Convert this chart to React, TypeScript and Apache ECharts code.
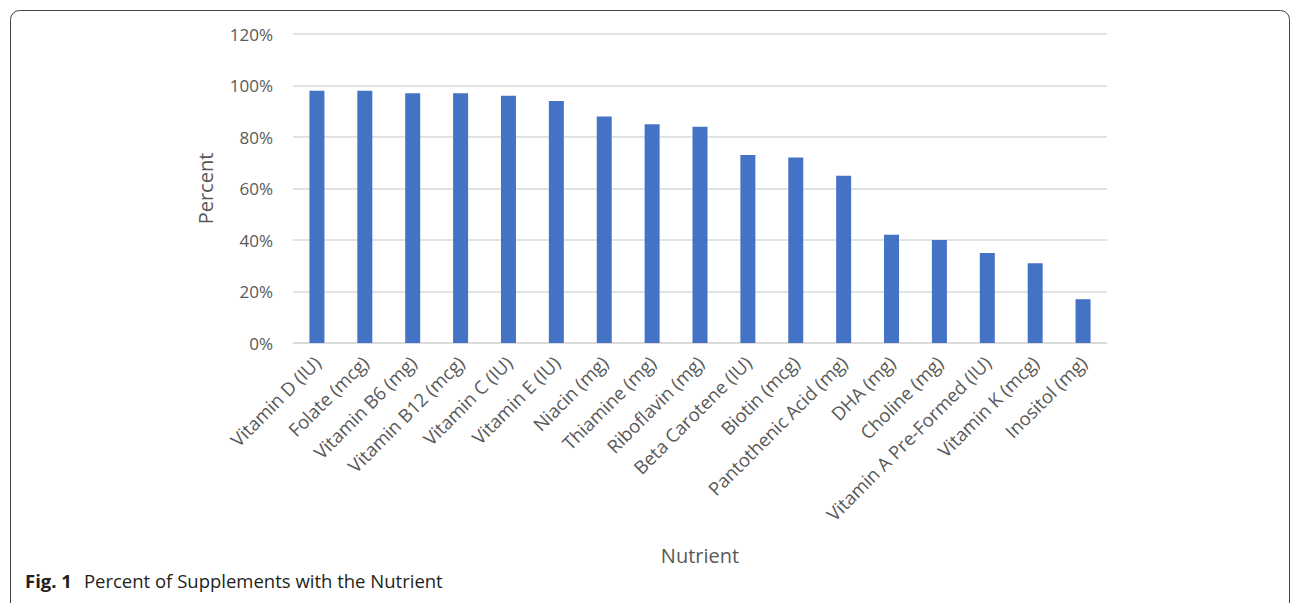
import React, { useEffect, useRef } from "react";
import * as echarts from "echarts";

const categories = [
  "Vitamin D (IU)",
  "Folate (mcg)",
  "Vitamin B6 (mg)",
  "Vitamin B12 (mcg)",
  "Vitamin C (IU)",
  "Vitamin E (IU)",
  "Niacin (mg)",
  "Thiamine (mg)",
  "Riboflavin (mg)",
  "Beta Carotene (IU)",
  "Biotin (mcg)",
  "Pantothenic Acid (mg)",
  "DHA (mg)",
  "Choline (mg)",
  "Vitamin A Pre-Formed (IU)",
  "Vitamin K (mcg)",
  "Inositol (mg)",
];

const percentValues = [98, 98, 97, 97, 96, 94, 88, 85, 84, 73, 72, 65, 42, 40, 35, 31, 17];

const yTicks = { min: 0, max: 120, interval: 20 };

const FONT = "'Open Sans', 'Noto Sans', sans-serif";

export default function App() {
  const ref = useRef<HTMLDivElement>(null);
  useEffect(() => {
    if (!ref.current) return;
    const chart = echarts.init(ref.current, null, { renderer: "svg" });
    chart.setOption({
      animation: false,
      backgroundColor: "#ffffff",
      grid: { left: 293, right: 188, top: 34, bottom: 260, containLabel: false },
      xAxis: {
        type: "category",
        data: categories,
        name: "Nutrient",
        nameLocation: "middle",
        nameGap: 202,
        nameTextStyle: { fontFamily: FONT, fontSize: 20, color: "#595959" },
        axisLine: { show: true, lineStyle: { color: "#d9d9d9", width: 1.5 } },
        axisTick: { show: false },
        axisLabel: {
          rotate: 45,
          interval: 0,
          margin: 16,
          fontFamily: FONT,
          fontSize: 18.5,
          color: "#595959",
        },
      },
      yAxis: {
        type: "value",
        min: yTicks.min,
        max: yTicks.max,
        interval: yTicks.interval,
        name: "Percent",
        nameLocation: "middle",
        nameGap: 78,
        nameTextStyle: { fontFamily: FONT, fontSize: 20, color: "#595959" },
        axisLine: { show: false },
        axisTick: { show: false },
        axisLabel: {
          formatter: "{value}%",
          margin: 20,
          fontFamily: FONT,
          fontSize: 17,
          color: "#595959",
        },
        splitLine: { lineStyle: { color: "#d9d9d9", width: 1.5 } },
      },
      series: [
        {
          type: "bar",
          data: percentValues,
          barWidth: 15,
          itemStyle: { color: "#4472C4" },
        },
      ],
      graphic: [
        {
          type: "rect",
          shape: { x: 10.5, y: 10.5, width: 1279, height: 640, r: 9 },
          style: { fill: "none", stroke: "#444444", lineWidth: 1 },
          silent: true,
        },
        {
          type: "text",
          left: 25,
          top: 571,
          style: {
            text: "{b|Fig. 1}Percent of Supplements with the Nutrient",
            fontFamily: FONT,
            fontSize: 18.5,
            fill: "#231f20",
            rich: {
              b: {
                fontFamily: FONT,
                fontSize: 18.5,
                fontWeight: "bold",
                fill: "#231f20",
                padding: [0, 12, 0, 0],
              },
            },
          },
        },
      ],
    });
    return () => chart.dispose();
  }, []);
  return (
    <div style={{ position: "absolute", left: 0, top: 0 }}>
      <div ref={ref} style={{ width: 1295, height: 603 }} />
    </div>
  );
}
